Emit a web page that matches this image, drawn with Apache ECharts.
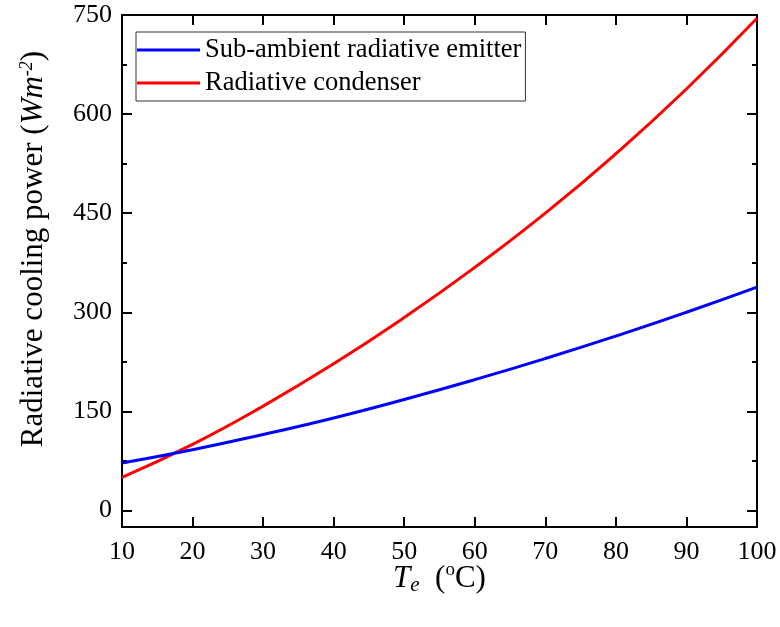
<!DOCTYPE html>
<html>
<head>
<meta charset="utf-8">
<script src="https://cdn.jsdelivr.net/npm/echarts@6/dist/echarts.min.js"></script>
<style>html,body{margin:0;padding:0;background:#fff}#c{width:780px;height:627px}</style>
</head>
<body>
<div id="c"></div>
<script>
var temps = [10, 20, 30, 40, 50, 60, 70, 80, 90, 100];
var emitter = [72, 92, 115, 140, 168, 198, 230, 264, 300, 338];
var condenser = [50, 100, 158, 222, 292, 368, 450, 540, 638, 745];
var yMajorTicks = [0, 150, 300, 450, 600, 750];
var yMinorTicks = [75, 225, 375, 525, 675];
var seriesNames = ['Sub-ambient radiative emitter', 'Radiative condenser'];

var FONT = 'Liberation Serif';
function pairs(xs, ys) { return xs.map(function (x, i) { return [x, ys[i]]; }); }

function yAxisCfg(pos, showLabel, ticks, len, showLine, name) {
  var a = {
    type: 'value', position: pos, min: -25, max: 750,
    splitLine: { show: false },
    axisLine: { show: showLine, onZero: false, lineStyle: { color: '#000', width: 2 } },
    axisTick: { show: true, inside: true, length: len, customValues: ticks, lineStyle: { color: '#000', width: 2 } },
    axisLabel: { show: showLabel, customValues: yMajorTicks, color: '#000', fontFamily: FONT, fontSize: 26, margin: 10 }
  };
  if (name) {
    a.name = name;
    a.nameLocation = 'middle';
    a.nameGap = 72;
    a.nameTextStyle = {
      color: '#000', fontFamily: FONT, fontSize: 31, padding: [0, 0, 0, 44],
      rich: {
        i: { fontFamily: FONT, fontSize: 31, fontStyle: 'italic', color: '#000' },
        sup: { fontFamily: FONT, fontSize: 18, fontStyle: 'italic', color: '#000', verticalAlign: 'top', padding: [0, 0, 14, 0] }
      }
    };
  }
  return a;
}

var chart = echarts.init(document.getElementById('c'), null, { renderer: 'canvas' });
chart.setOption({
  animation: false,
  backgroundColor: '#fff',
  grid: { left: 122, right: 23, top: 15, bottom: 100, containLabel: false },
  legend: {
    orient: 'vertical', left: 136, top: 32,
    data: seriesNames,
    icon: 'rect', itemWidth: 63, itemHeight: 3, itemGap: 3,
    padding: [3, 4, 3, 1],
    borderColor: '#333', borderWidth: 1,
    textStyle: { color: '#000', fontFamily: FONT, fontSize: 26.5, lineHeight: 30 }
  },
  xAxis: [
    {
      type: 'value', position: 'bottom', min: 10, max: 100, interval: 10,
      splitLine: { show: false },
      axisLine: { onZero: false, lineStyle: { color: '#000', width: 2 } },
      axisTick: { inside: true, length: 10, lineStyle: { color: '#000', width: 2 } },
      axisLabel: { color: '#000', fontFamily: FONT, fontSize: 26, margin: 12 },
      name: '{i|T}{sub|e}  ({sup|o}C)',
      nameLocation: 'middle', nameGap: 34, nameMoveOverlap: false,
      nameTextStyle: {
        color: '#000', fontFamily: FONT, fontSize: 31,
        rich: {
          i: { fontFamily: FONT, fontSize: 31, fontStyle: 'italic', color: '#000' },
          sub: { fontFamily: FONT, fontSize: 21, fontStyle: 'italic', color: '#000', verticalAlign: 'bottom', padding: [14, 0, 0, 0] },
          sup: { fontFamily: FONT, fontSize: 19, color: '#000', verticalAlign: 'top', padding: [0, 0, 14, 0] }
        }
      }
    },
    {
      type: 'value', position: 'top', min: 10, max: 100, interval: 10,
      splitLine: { show: false },
      axisLine: { onZero: false, lineStyle: { color: '#000', width: 2 } },
      axisTick: { inside: true, length: 10, lineStyle: { color: '#000', width: 2 } },
      axisLabel: { show: false }
    }
  ],
  yAxis: [
    yAxisCfg('left', true, yMajorTicks, 10, true, 'Radiative cooling power ({i|Wm}{sup|-2})'),
    yAxisCfg('right', false, yMajorTicks, 10, true),
    yAxisCfg('left', false, yMinorTicks, 5, false),
    yAxisCfg('right', false, yMinorTicks, 5, false)
  ],
  series: [
    {
      name: seriesNames[0], type: 'line', smooth: true, showSymbol: false,
      xAxisIndex: 0, yAxisIndex: 0,
      lineStyle: { color: '#0000FF', width: 3 }, itemStyle: { color: '#0000FF' },
      data: pairs(temps, emitter), z: 3
    },
    {
      name: seriesNames[1], type: 'line', smooth: true, showSymbol: false,
      xAxisIndex: 0, yAxisIndex: 0,
      lineStyle: { color: '#FF0000', width: 3 }, itemStyle: { color: '#FF0000' },
      data: pairs(temps, condenser), z: 2
    }
  ]
});
</script>
</body>
</html>
